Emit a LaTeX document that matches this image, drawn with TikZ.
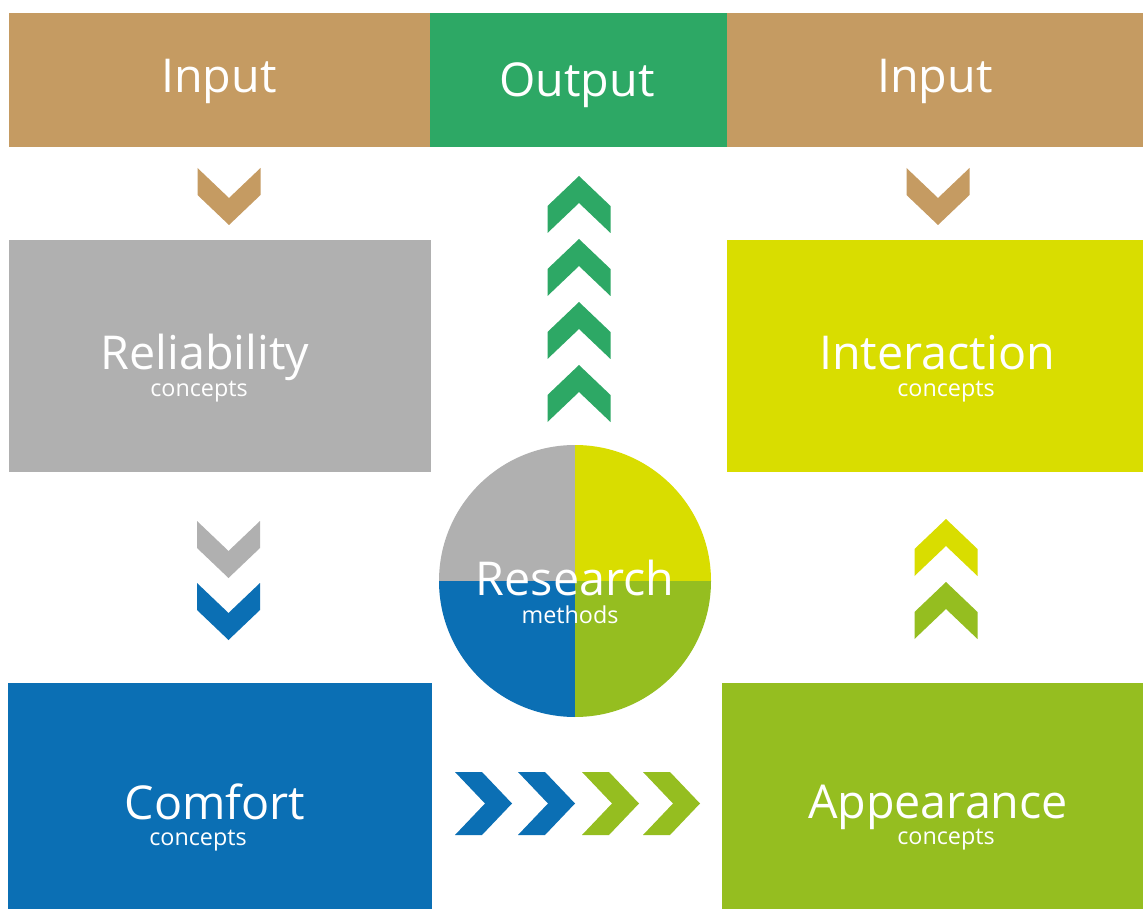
\documentclass[tikz,border=0pt]{standalone}
\usepackage{fontspec}
\setmainfont{Open Sans}
\definecolor{cTan}{RGB}{197,155,98}
\definecolor{cOut}{RGB}{45,168,101}
\definecolor{cGray}{RGB}{176,176,176}
\definecolor{cYel}{RGB}{217,221,0}
\definecolor{cBlue}{RGB}{11,111,180}
\definecolor{cLime}{RGB}{149,190,32}
\tikzset{
  bigtxt/.style={text=white, anchor=base, inner sep=0pt, font=\fontsize{35}{38}\selectfont},
  smalltxt/.style={text=white, anchor=base, inner sep=0pt, font=\fontsize{17.5}{20}\selectfont},
  chevD/.pic={\fill (-31.5,0) -- (-31.5,27) -- (0,57) -- (31.5,27) -- (31.5,0) -- (0,30) -- cycle;},
  chevU/.pic={\fill (-31.5,0) -- (-31.5,-27) -- (0,-57) -- (31.5,-27) -- (31.5,0) -- (0,-30) -- cycle;},
  chevR/.pic={\fill (0,-31.5) -- (27,-31.5) -- (57,0) -- (27,31.5) -- (0,31.5) -- (30,0) -- cycle;}
}
\begin{document}
\begin{tikzpicture}[x=0.75pt,y=-0.75pt]
\useasboundingbox (0,0) rectangle (1143,909);
\fill[white] (0,0) rectangle (1143,909);
% top bar
\fill[cTan] (9,13) rectangle (431,147);
\fill[cOut] (430,13) rectangle (727,147);
\fill[cTan] (727,13) rectangle (1143,147);
\node[bigtxt] (inL) at (219,93) {Input};
\node[bigtxt] (out) at (577,97) {Output};
\node[bigtxt] (inR) at (935,93) {Input};
% boxes
\fill[cGray] (9,240) rectangle (431,472);
\fill[cYel] (727,240) rectangle (1143,472);
\fill[cBlue] (8,683) rectangle (432,909);
\fill[cLime] (722,683) rectangle (1143,909);
\node[bigtxt] (rel) at (205,370) {Reliability};
\node[smalltxt] (relc) at (199,397) {concepts};
\node[bigtxt] (int) at (937,370) {Interaction};
\node[smalltxt] (intc) at (946,397) {concepts};
\node[bigtxt] (com) at (215,819) {Comfort};
\node[smalltxt] (comc) at (198,845) {concepts};
\node[bigtxt] (app) at (938,818) {Appearance};
\node[smalltxt] (appc) at (946,844) {concepts};
% circle
\begin{scope}
\clip (575,581) circle[radius=136];
\fill[cGray] (430,440) rectangle (575,581);
\fill[cYel] (575,440) rectangle (720,581);
\fill[cBlue] (430,581) rectangle (575,720);
\fill[cLime] (575,581) rectangle (720,720);
\end{scope}
\node[bigtxt] (res) at (575,595) {Research};
\node[smalltxt] (meth) at (570,623) {methods};
% chevrons
\pic[cTan] at (229,168) {chevD};
\pic[cTan] at (938,168) {chevD};
\pic[cOut] at (579,233) {chevU};
\pic[cOut] at (579,296) {chevU};
\pic[cOut] at (579,359) {chevU};
\pic[cOut] at (579,422) {chevU};
\pic[cGray] at (228.5,521) {chevD};
\pic[cBlue] at (228.5,583) {chevD};
\pic[cYel] at (946,576) {chevU};
\pic[cLime] at (946,639) {chevU};
\pic[cBlue] at (455,803.5) {chevR};
\pic[cBlue] at (518,803.5) {chevR};
\pic[cLime] at (582,803.5) {chevR};
\pic[cLime] at (643,803.5) {chevR};
\end{tikzpicture}
\end{document}
